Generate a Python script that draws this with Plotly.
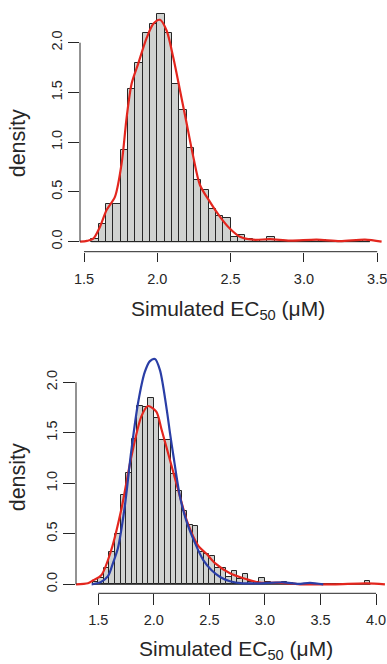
import plotly.graph_objects as go

# ---------------- data ----------------
bin_width = 0.05

top_bin_left = [1.55, 1.60, 1.65, 1.70, 1.75, 1.80, 1.85, 1.90, 1.95, 2.00, 2.05, 2.10, 2.15,
                2.20, 2.25, 2.30, 2.35, 2.40, 2.45, 2.50, 2.55, 2.60, 2.65, 2.70, 2.75, 2.80,
                2.85, 2.90, 2.95, 3.00, 3.05, 3.10, 3.15, 3.20, 3.25, 3.30, 3.35, 3.40]
top_density = [0.03, 0.18, 0.38, 0.38, 0.92, 1.53, 1.80, 2.10, 2.19, 2.29, 2.10, 1.58, 1.32,
               0.94, 0.62, 0.52, 0.33, 0.26, 0.24, 0.05, 0.07, 0.03, 0.02, 0.02, 0.05, 0.0,
               0.0, 0.0, 0.0, 0.0, 0.02, 0.02, 0.0, 0.0, 0.0, 0.0, 0.0, 0.02]

top_kde_x = [1.473, 1.52, 1.563, 1.609, 1.655, 1.711, 1.757, 1.791, 1.825, 1.870, 1.928, 1.973,
             2.018, 2.064, 2.109, 2.155, 2.200, 2.246, 2.291, 2.359, 2.428, 2.496, 2.564, 2.655,
             2.769, 2.905, 3.087, 3.246, 3.417, 3.53]
top_kde_y = [0.0, 0.008, 0.03, 0.15, 0.32, 0.45, 0.79, 1.25, 1.59, 1.79, 2.05, 2.19,
             2.23, 2.12, 1.85, 1.52, 1.19, 0.85, 0.57, 0.40, 0.25, 0.13, 0.05, 0.02,
             0.025, 0.01, 0.02, 0.005, 0.02, 0.0]

bot_bin_left = [1.45, 1.50, 1.55, 1.60, 1.65, 1.70, 1.75, 1.80, 1.85, 1.90, 1.95, 2.00, 2.05,
                2.10, 2.15, 2.20, 2.25, 2.30, 2.35, 2.40, 2.45, 2.50, 2.55, 2.60, 2.65, 2.70,
                2.75, 2.80, 2.85, 2.90, 2.95, 3.00, 3.05, 3.10, 3.15, 3.20, 3.25, 3.30, 3.35,
                3.40, 3.45, 3.50, 3.55, 3.60, 3.65, 3.70, 3.75, 3.80, 3.85, 3.90]
bot_density = [0.02, 0.06, 0.16, 0.32, 0.50, 0.88, 1.10, 1.44, 1.77, 1.76, 1.84, 1.65, 1.43,
               1.43, 1.09, 0.92, 0.73, 0.59, 0.58, 0.32, 0.30, 0.28, 0.16, 0.16, 0.07, 0.13,
               0.05, 0.10, 0.02, 0.02, 0.06, 0.02, 0.01, 0.01, 0.02, 0.01, 0.0, 0.0, 0.0,
               0.0, 0.0, 0.0, 0.0, 0.0, 0.0, 0.0, 0.0, 0.0, 0.0, 0.03]

bot_red_x = [1.299, 1.407, 1.455, 1.527, 1.617, 1.707, 1.797, 1.887, 1.947, 2.022, 2.07, 2.145,
             2.235, 2.30, 2.40, 2.476, 2.55, 2.685, 2.836, 2.955, 3.11, 3.315, 3.615, 3.916, 4.08]
bot_red_y = [0.0, 0.01, 0.04, 0.09, 0.34, 0.74, 1.26, 1.66, 1.765, 1.71, 1.53, 1.23,
             0.87, 0.62, 0.38, 0.30, 0.21, 0.11, 0.05, 0.016, 0.016, 0.0, 0.0, 0.01, 0.0]

bot_blue_x = [1.44, 1.52, 1.587, 1.635, 1.677, 1.737, 1.797, 1.857, 1.918, 1.965, 2.01, 2.055,
              2.116, 2.145, 2.175, 2.235, 2.295, 2.37, 2.445, 2.52, 2.60, 2.685, 2.80, 2.95,
              3.165, 3.30, 3.405, 3.525]
bot_blue_y = [0.0, 0.02, 0.08, 0.22, 0.36, 0.76, 1.32, 1.79, 2.10, 2.21, 2.23, 2.12,
              1.73, 1.50, 1.28, 0.87, 0.62, 0.41, 0.24, 0.14, 0.07, 0.03, 0.01, 0.01,
              0.02, 0.005, 0.015, 0.0]

top_xticks = [1.5, 2.0, 2.5, 3.0, 3.5]
bot_xticks = [1.5, 2.0, 2.5, 3.0, 3.5, 4.0]
yticks = [0.0, 0.5, 1.0, 1.5, 2.0]

# ---------------- style ----------------
W, H = 387, 664
FONT = "Liberation Sans, Arial, Helvetica, sans-serif"
INK = "#262626"
BAR_FILL = "#d0d2d0"
RED = "#e3261e"
BLUE = "#2a3ea6"


def px(p):
    return p / W


def py(p):
    return 1 - p / H


fig = go.Figure()


def add_hist(lefts, dens, xa, ya):
    fig.add_trace(go.Bar(
        x=[l + bin_width / 2 for l in lefts], y=dens, width=bin_width,
        marker=dict(color=BAR_FILL, line=dict(color=INK, width=1)),
        xaxis=xa, yaxis=ya, showlegend=False, hoverinfo="skip"))
    fig.add_trace(go.Scatter(
        x=[lefts[0], lefts[-1] + bin_width], y=[0, 0], mode="lines",
        line=dict(color=INK, width=1), xaxis=xa, yaxis=ya, showlegend=False,
        hoverinfo="skip"))


def add_curve(xs, ys, color, xa, ya):
    fig.add_trace(go.Scatter(
        x=xs, y=ys, mode="lines", line=dict(color=color, width=2.2, shape="spline",
                                             smoothing=0.8),
        xaxis=xa, yaxis=ya, showlegend=False, hoverinfo="skip", cliponaxis=True))


add_hist(top_bin_left, top_density, "x", "y")
add_curve(top_kde_x, top_kde_y, RED, "x", "y")

add_hist(bot_bin_left, bot_density, "x2", "y2")
add_curve(bot_red_x, bot_red_y, RED, "x2", "y2")
add_curve(bot_blue_x, bot_blue_y, BLUE, "x2", "y2")

tickfont = dict(family=FONT, size=14.5, color=INK)
common_x = dict(showgrid=False, zeroline=False, showline=False, ticks="outside",
                tickcolor=INK, tickwidth=1, tickfont=tickfont, fixedrange=True,
                automargin=False, ticklabeloverflow="allow")
common_y = dict(showgrid=False, zeroline=False, showline=False, ticks="outside",
                tickcolor=INK, tickwidth=1, tickfont=tickfont, tickangle=-90,
                tickvals=yticks, ticktext=[f"{v:.1f}" for v in yticks], fixedrange=True,
                automargin=False)

fig.update_layout(
    width=W, height=H, margin=dict(l=0, r=0, t=0, b=0, autoexpand=False),
    paper_bgcolor="white", plot_bgcolor="white", bargap=0,
    font=dict(family=FONT, color=INK),
    xaxis=dict(domain=[px(80), px(384)], range=[1.4727, 3.5464], anchor="y",
               tickvals=top_xticks, ticktext=[f"{v:.1f}" for v in top_xticks],
               ticklen=9, ticklabelstandoff=5, **common_x),
    yaxis=dict(domain=[py(251.7), 1.0], range=[-0.1005, 2.429], anchor="x",
               ticklen=11, **common_y),
    xaxis2=dict(domain=[px(76), px(386)], range=[1.2993, 4.0896], anchor="y2",
                tickvals=bot_xticks, ticktext=[f"{v:.1f}" for v in bot_xticks],
                ticklen=10.5, ticklabelstandoff=3, **common_x),
    yaxis2=dict(domain=[py(593.3), py(350)], range=[-0.0891, 2.3198], anchor="x2",
                ticklen=12, **common_y),
)

# R-style axis lines spanning only the tick range
shapes = []
shapes.append(dict(type="line", xref="x", yref="y domain", x0=top_xticks[0], x1=top_xticks[-1],
                   y0=0, y1=0, line=dict(color=INK, width=1)))
shapes.append(dict(type="line", xref="x domain", yref="y", x0=0, x1=0,
                   y0=yticks[0], y1=yticks[-1], line=dict(color=INK, width=1)))
shapes.append(dict(type="line", xref="x2", yref="y2 domain", x0=bot_xticks[0], x1=bot_xticks[-1],
                   y0=0, y1=0, line=dict(color=INK, width=1)))
shapes.append(dict(type="line", xref="x2 domain", yref="y2", x0=0, x1=0,
                   y0=yticks[0], y1=yticks[-1], line=dict(color=INK, width=1)))
fig.update_layout(shapes=shapes)

title_font = dict(family=FONT, size=21, color=INK)
xtitle = "Simulated EC<sub>50</sub> (μM)"
fig.add_annotation(text=xtitle, xref="paper", yref="paper", x=px(228.3), y=py(310),
                   xanchor="center", yanchor="middle", showarrow=False, font=title_font)
fig.add_annotation(text=xtitle, xref="paper", yref="paper", x=px(236), y=py(650),
                   xanchor="center", yanchor="middle", showarrow=False, font=title_font)
fig.add_annotation(text="density", xref="paper", yref="paper", x=px(18.3), y=py(143),
                   xanchor="center", yanchor="middle", showarrow=False, textangle=-90,
                   font=dict(family=FONT, size=21.5, color=INK))
fig.add_annotation(text="density", xref="paper", yref="paper", x=px(18.3), y=py(477),
                   xanchor="center", yanchor="middle", showarrow=False, textangle=-90,
                   font=dict(family=FONT, size=21.5, color=INK))

fig.write_html("out.html")
